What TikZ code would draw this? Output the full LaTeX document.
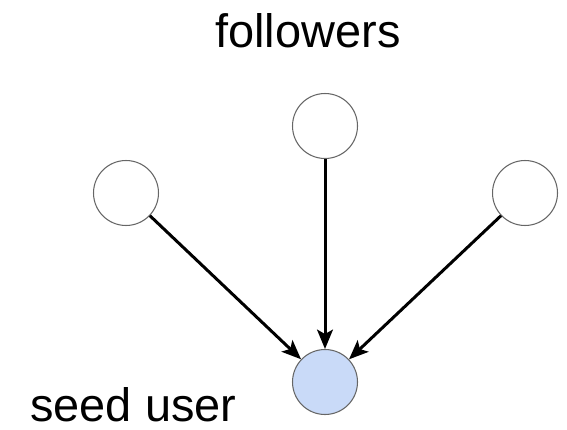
\documentclass[tikz,border=0pt]{standalone}
\usepackage{fontspec}
\setmainfont{Liberation Sans}
\usetikzlibrary{arrows.meta,positioning}
\definecolor{seedblue}{HTML}{C9DAF8}

\begin{document}
\begin{tikzpicture}[x=0.02cm, y=-0.02cm,
    user/.style={draw=black!60, circle, minimum size=1.3cm, inner sep=0pt, line width=0.6pt},
    link/.style={-{Stealth[length=11pt, width=9pt, inset=2.5pt]}, line width=1.7pt},
    lbl/.style={font=\fontsize{26.7}{30}\selectfont, inner sep=0pt}]
    \useasboundingbox (0,0) rectangle (567,429);

    % Follower nodes
    \node[user] (top) at (325,126) {};
    \node[user] (left) at (126,193) {};
    \node[user] (right) at (525,193) {};

    % Seed node
    \node[user, fill=seedblue] (seed) at (325,382) {};

    % Follow links
    \draw[link] (left) -- (seed);
    \draw[link] (top) -- (seed);
    \draw[link] (right) -- (seed);

    % Labels
    \node[lbl, anchor=base] (followers) at (308,48) {followers};
    \node[lbl, anchor=base west] (seedlbl) at (30,421) {seed user};
\end{tikzpicture}
\end{document}
